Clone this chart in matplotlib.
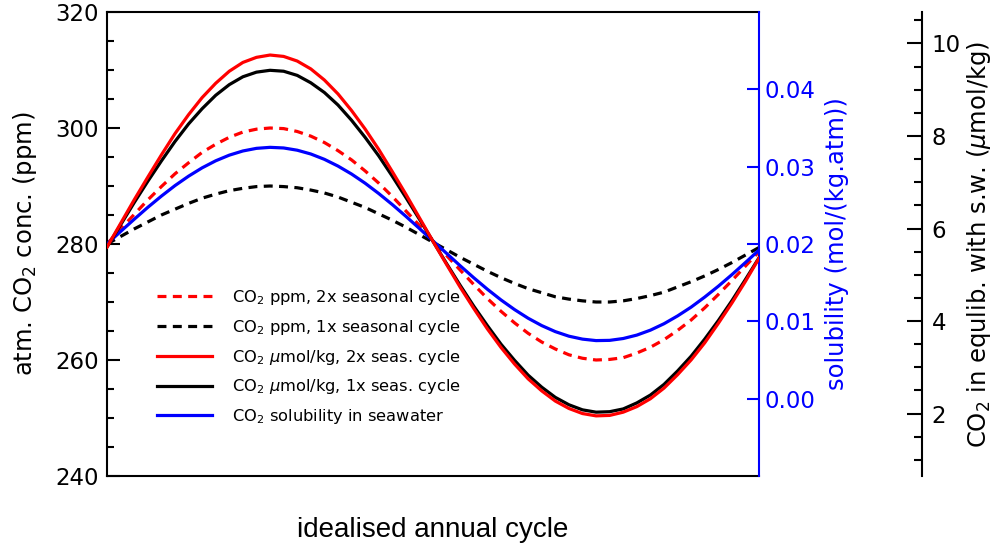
import matplotlib
matplotlib.use("Agg")
import matplotlib.pyplot as plt
from matplotlib.ticker import MultipleLocator

plt.rcParams["font.family"] = ["DejaVu Sans"]
plt.rcParams["mathtext.fontset"] = "dejavusans"

year_frac = [i / 48 for i in range(49)]

# atmospheric CO2 (ppm), left axis
ppm_2x = [280.0, 282.6, 285.1, 287.6, 289.9, 292.1, 294.0, 295.8, 297.2, 298.4,
          299.3, 299.8, 300.0, 299.9, 299.4, 298.6, 297.5, 296.1, 294.5, 292.6,
          290.5, 288.2, 285.7, 283.2, 280.6, 278.0, 275.5, 273.0, 270.6, 268.4,
          266.4, 264.6, 263.1, 261.9, 260.9, 260.3, 260.0, 260.1, 260.4, 261.2,
          262.2, 263.5, 265.1, 266.9, 269.0, 271.3, 273.7, 276.2, 278.7]
ppm_1x = [280.0, 281.3, 282.6, 283.8, 285.0, 286.0, 287.0, 287.9, 288.6, 289.2,
          289.6, 289.9, 290.0, 289.9, 289.7, 289.3, 288.8, 288.1, 287.2, 286.3,
          285.2, 284.1, 282.9, 281.6, 280.3, 279.0, 277.7, 276.5, 275.3, 274.2,
          273.2, 272.3, 271.6, 270.9, 270.5, 270.2, 270.0, 270.0, 270.2, 270.6,
          271.1, 271.7, 272.6, 273.5, 274.5, 275.6, 276.8, 278.1, 279.4]

# solubility (mol/(kg.atm)), blue axis
solubility = [0.02000, 0.02162, 0.02320, 0.02474, 0.02619, 0.02755, 0.02877,
              0.02985, 0.03076, 0.03149, 0.03203, 0.03237, 0.03250, 0.03242,
              0.03213, 0.03164, 0.03095, 0.03008, 0.02905, 0.02786, 0.02653,
              0.02510, 0.02358, 0.02200, 0.02039, 0.01878, 0.01718, 0.01563,
              0.01415, 0.01277, 0.01152, 0.01040, 0.00945, 0.00867, 0.00808,
              0.00770, 0.00751, 0.00754, 0.00778, 0.00822, 0.00886, 0.00969,
              0.01070, 0.01184, 0.01314, 0.01454, 0.01604, 0.01761, 0.01922]

# CO2 in equilibrium with sea water (umol/kg), outer axis
umol_2x = [5.60, 6.11, 6.62, 7.11, 7.59, 8.05, 8.46, 8.83, 9.14, 9.40, 9.59, 9.70,
           9.75, 9.72, 9.62, 9.45, 9.21, 8.91, 8.55, 8.15, 7.71, 7.23, 6.74, 6.23,
           5.72, 5.22, 4.73, 4.27, 3.83, 3.43, 3.07, 2.75, 2.49, 2.27, 2.11, 2.00,
           1.95, 1.96, 2.03, 2.15, 2.32, 2.55, 2.84, 3.16, 3.53, 3.95, 4.39, 4.86, 5.36]
umol_1x = [5.60, 6.08, 6.56, 7.02, 7.46, 7.88, 8.26, 8.59, 8.88, 9.11, 9.28, 9.38,
           9.42, 9.40, 9.31, 9.15, 8.94, 8.67, 8.34, 7.97, 7.57, 7.13, 6.67, 6.20,
           5.72, 5.24, 4.77, 4.32, 3.90, 3.50, 3.15, 2.83, 2.57, 2.35, 2.19, 2.08,
           2.03, 2.04, 2.10, 2.23, 2.40, 2.63, 2.92, 3.24, 3.61, 4.01, 4.44, 4.90, 5.37]

legend_labels = [
    "CO$_2$ ppm, 2x seasonal cycle",
    "CO$_2$ ppm, 1x seasonal cycle",
    "CO$_2$ $\\mu$mol/kg, 2x seas. cycle",
    "CO$_2$ $\\mu$mol/kg, 1x seas. cycle",
    "CO$_2$ solubility in seawater",
]

LW = 2.3
DASH = (2.8, 2.0)
TICK_FS = 16.5
LABEL_FS = 17.5

fig = plt.figure(figsize=(9.92, 5.46), dpi=100)
ax = fig.add_axes([0.1079, 0.1282, 0.6573, 0.8498])

l_rd, = ax.plot(year_frac, ppm_2x, color="red", lw=LW, dashes=DASH)
l_kd, = ax.plot(year_frac, ppm_1x, color="black", lw=LW, dashes=DASH)
ax.set_xlim(0, 1)
ax.set_ylim(240, 320)
ax.set_xticks([])
ax.yaxis.set_major_locator(MultipleLocator(20))
ax.yaxis.set_minor_locator(MultipleLocator(5))
ax.tick_params(axis="y", which="major", direction="in", length=9, width=1.5,
               labelsize=TICK_FS, pad=6)
ax.tick_params(axis="y", which="minor", direction="in", length=5, width=1.5)
for side in ["left", "top", "bottom"]:
    ax.spines[side].set_linewidth(1.5)
ax.spines["right"].set_visible(False)
ax.set_ylabel("atm. CO$_2$ conc. (ppm)", fontsize=LABEL_FS)
ax.yaxis.set_label_coords(-0.104, 0.5)
ax.set_xlabel("idealised annual cycle", fontsize=20, family="Liberation Sans")
ax.xaxis.set_label_coords(0.5, -0.088)

# solubility axis
ax2 = ax.twinx()
l_b, = ax2.plot(year_frac, solubility, color="blue", lw=LW)
ax2.set_ylim(-0.01, 0.05)
ax2.set_yticks([0.0, 0.01, 0.02, 0.03, 0.04])
ax2.set_yticklabels(["0.00", "0.01", "0.02", "0.03", "0.04"])
ax2.tick_params(axis="y", which="major", direction="in", length=9, width=1.5,
                labelsize=TICK_FS, pad=4, colors="blue")
for side in ["left", "top", "bottom"]:
    ax2.spines[side].set_visible(False)
ax2.spines["right"].set_color("blue")
ax2.spines["right"].set_linewidth(1.5)
ax2.set_ylabel("solubility (mol/(kg.atm))", fontsize=LABEL_FS, color="blue")
ax2.yaxis.set_label_coords(1.101, 0.5)

# outer axis, CO2 in equilibrium with sea water
ax3 = ax.twinx()
l_ks, = ax3.plot(year_frac, umol_1x, color="black", lw=LW)
l_rs, = ax3.plot(year_frac, umol_2x, color="red", lw=LW)
ax3.set_ylim(0.65, 10.68)
ax3.yaxis.set_major_locator(MultipleLocator(2))
ax3.yaxis.set_minor_locator(MultipleLocator(0.5))
ax3.tick_params(axis="y", which="major", direction="in", length=11, width=1.5,
                labelsize=TICK_FS, pad=7)
ax3.tick_params(axis="y", which="minor", direction="in", length=6, width=1.5)
for side in ["left", "top", "bottom"]:
    ax3.spines[side].set_visible(False)
ax3.spines["right"].set_position(("axes", 1.250))
ax3.spines["right"].set_linewidth(1.5)
ax3.set_ylabel("CO$_2$ in equlib. with s.w. ($\\mu$mol/kg)", fontsize=LABEL_FS)
ax3.yaxis.set_label_coords(1.316, 0.5)

ax3.legend([l_rd, l_kd, l_rs, l_ks, l_b], legend_labels, loc="upper left",
           bbox_to_anchor=(0.0766, 0.405), frameon=False, fontsize=11.7,
           handlelength=3.4, handletextpad=1.23, labelspacing=0.66,
           borderpad=0, borderaxespad=0)

fig.savefig("out.png", dpi=100)
